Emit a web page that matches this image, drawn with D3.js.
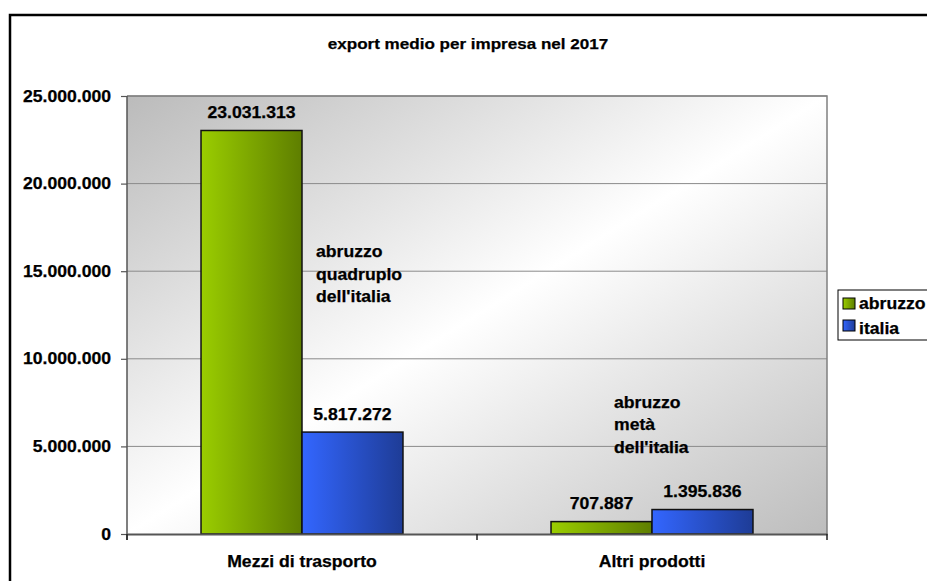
<!DOCTYPE html>
<html><head><meta charset="utf-8">
<script src="https://cdn.jsdelivr.net/npm/d3@7"></script>
<style>
html,body{margin:0;padding:0;background:#fff;overflow:hidden;}
text{font-family:"Liberation Sans",Arial,sans-serif;font-weight:bold;fill:#000;stroke:#000;stroke-width:0.25px;}
</style></head>
<body>
<svg id="chart" width="927" height="581"></svg>
<script>
const title = "export medio per impresa nel 2017";
const categories = ["Mezzi di trasporto", "Altri prodotti"];
const series = ["abruzzo", "italia"];
const abruzzo = [23031313, 707887];
const italia = [5817272, 1395836];
const yTicks = [0, 5000000, 10000000, 15000000, 20000000, 25000000];
const annotations = [
  {category: "Mezzi di trasporto", value: 15800000, lines: ["abruzzo", "quadruplo", "dell'italia"]},
  {category: "Altri prodotti", value: 7200000, lines: ["abruzzo", "metà", "dell'italia"]}
];

const values = {abruzzo, italia};
const locale = d3.formatLocale({decimal: ",", thousands: ".", grouping: [3], currency: ["", ""]});
const fmt = locale.format(",d");
const STRETCH = 1.1;

const svg = d3.select("#chart");
const plot = {left: 127, top: 96, right: 827, bottom: 534};

const defs = svg.append("defs");
const bg = defs.append("linearGradient").attr("id", "bgGrad")
  .attr("x1", 0).attr("y1", 0).attr("x2", 1).attr("y2", 1);
bg.append("stop").attr("offset", "0%").attr("stop-color", "#bbbbbb");
bg.append("stop").attr("offset", "50%").attr("stop-color", "#ffffff");
bg.append("stop").attr("offset", "100%").attr("stop-color", "#bdbdbd");

const colors = {abruzzo: ["#9acd00", "#5e7e00"], italia: ["#3366ff", "#1e3c96"]};
series.forEach(s => {
  const g = defs.append("linearGradient").attr("id", "grad-" + s)
    .attr("x1", 0).attr("y1", 0).attr("x2", 1).attr("y2", 0);
  g.append("stop").attr("offset", "0%").attr("stop-color", colors[s][0]);
  g.append("stop").attr("offset", "100%").attr("stop-color", colors[s][1]);
});

function stretch(sel) {
  sel.each(function() {
    const n = this.getComputedTextLength();
    if (n > 0) d3.select(this).attr("textLength", n * STRETCH).attr("lengthAdjust", "spacingAndGlyphs");
  });
}

// outer frame
svg.append("rect").attr("x", 10).attr("y", 15).attr("width", 1000).attr("height", 1000)
  .attr("fill", "#fff").attr("stroke", "#000").attr("stroke-width", 2.5);

const x = d3.scaleBand().domain(categories).range([plot.left, plot.right]).paddingInner(0).paddingOuter(0);
const x1 = d3.scaleBand().domain(series).range([0, x.bandwidth()]).paddingInner(0).paddingOuter(0.733);
const y = d3.scaleLinear().domain([0, 25000000]).range([plot.bottom, plot.top]);

// plot background
svg.append("rect").attr("x", plot.left).attr("y", plot.top)
  .attr("width", plot.right - plot.left).attr("height", plot.bottom - plot.top)
  .attr("fill", "url(#bgGrad)");

// gridlines
svg.append("g").selectAll("line").data(yTicks.filter(d => d > 0)).join("line")
  .attr("x1", plot.left).attr("x2", plot.right)
  .attr("y1", d => y(d)).attr("y2", d => y(d))
  .attr("stroke", "#8a8a8a").attr("stroke-width", 1);

// plot border (top/right)
svg.append("path").attr("d", `M${plot.left},${plot.top}H${plot.right}V${plot.bottom}`)
  .attr("fill", "none").attr("stroke", "#808080").attr("stroke-width", 1.5);

// bars
const groups = svg.append("g").selectAll("g").data(categories).join("g")
  .attr("transform", d => `translate(${x(d)},0)`);
groups.selectAll("rect").data((c, i) => series.map(s => ({s, v: values[s][i]}))).join("rect")
  .attr("x", d => x1(d.s)).attr("width", x1.bandwidth())
  .attr("y", d => y(d.v)).attr("height", d => y(0) - y(d.v))
  .attr("fill", d => `url(#grad-${d.s})`)
  .attr("stroke", "#111").attr("stroke-width", 1.5);

// value labels
groups.selectAll("text.val").data((c, i) => series.map(s => ({s, v: values[s][i]}))).join("text")
  .attr("class", "val")
  .attr("x", d => x1(d.s) + x1.bandwidth() / 2)
  .attr("y", d => y(d.v) - 12.5)
  .attr("text-anchor", "middle").attr("font-size", 16)
  .text(d => fmt(d.v)).call(stretch);

// y axis
const yAxis = svg.append("g").attr("transform", `translate(${plot.left},0)`)
  .call(d3.axisLeft(y).tickValues(yTicks).tickFormat(fmt).tickSize(6).tickPadding(10));
yAxis.select(".domain").attr("stroke", "#555").attr("stroke-width", 1.5)
  .attr("d", `M0,${plot.top}V${plot.bottom + 6}`);
yAxis.selectAll(".tick line").attr("stroke", "#555").attr("stroke-width", 1.2);
yAxis.selectAll(".tick text").attr("font-size", 16).attr("font-family", "Liberation Sans, Arial, sans-serif")
  .attr("font-weight", "bold").attr("fill", "#000").call(stretch);

// x axis
const xAxis = svg.append("g").attr("transform", `translate(0,${plot.bottom})`)
  .call(d3.axisBottom(x).tickSize(0).tickPadding(22));
xAxis.select(".domain").attr("stroke", "#555").attr("stroke-width", 2);
xAxis.selectAll(".tick text").attr("font-size", 16).attr("font-family", "Liberation Sans, Arial, sans-serif")
  .attr("font-weight", "bold").attr("fill", "#000").call(stretch);
const seps = [plot.left].concat(categories.map(c => x(c) + x.bandwidth()));
xAxis.selectAll("line.sep").data(seps).join("line").attr("class", "sep")
  .attr("x1", d => d).attr("x2", d => d).attr("y1", 0).attr("y2", 6)
  .attr("stroke", "#222").attr("stroke-width", 1.5);

// annotations
annotations.forEach(a => {
  const t = svg.append("text").attr("font-size", 16)
    .attr("x", x(a.category) + (a.category === categories[0] ? x1("italia") + 14 : 137))
    .attr("y", y(a.value));
  const tx = +t.attr("x");
  a.lines.forEach((l, i) => {
    t.append("tspan").attr("x", tx).attr("dy", i === 0 ? 0 : 22.5).text(l);
  });
  t.selectAll("tspan").call(stretch);
});

// title
svg.append("text").attr("x", 468).attr("y", 49).attr("text-anchor", "middle")
  .attr("font-size", 15.5).text(title).call(stretch);

// legend
const lg = svg.append("g");
lg.append("rect").attr("x", 838).attr("y", 290).attr("width", 120).attr("height", 50)
  .attr("fill", "#fff").attr("stroke", "#000").attr("stroke-width", 1);
series.forEach((s, i) => {
  lg.append("rect").attr("x", 843).attr("y", 298 + i * 22).attr("width", 12).attr("height", 11)
    .attr("fill", `url(#grad-${s})`).attr("stroke", "#000").attr("stroke-width", 1);
  lg.append("text").attr("x", 859).attr("y", 309 + i * 25).attr("font-size", 16).text(s).call(stretch);
});
</script>
</body></html>
